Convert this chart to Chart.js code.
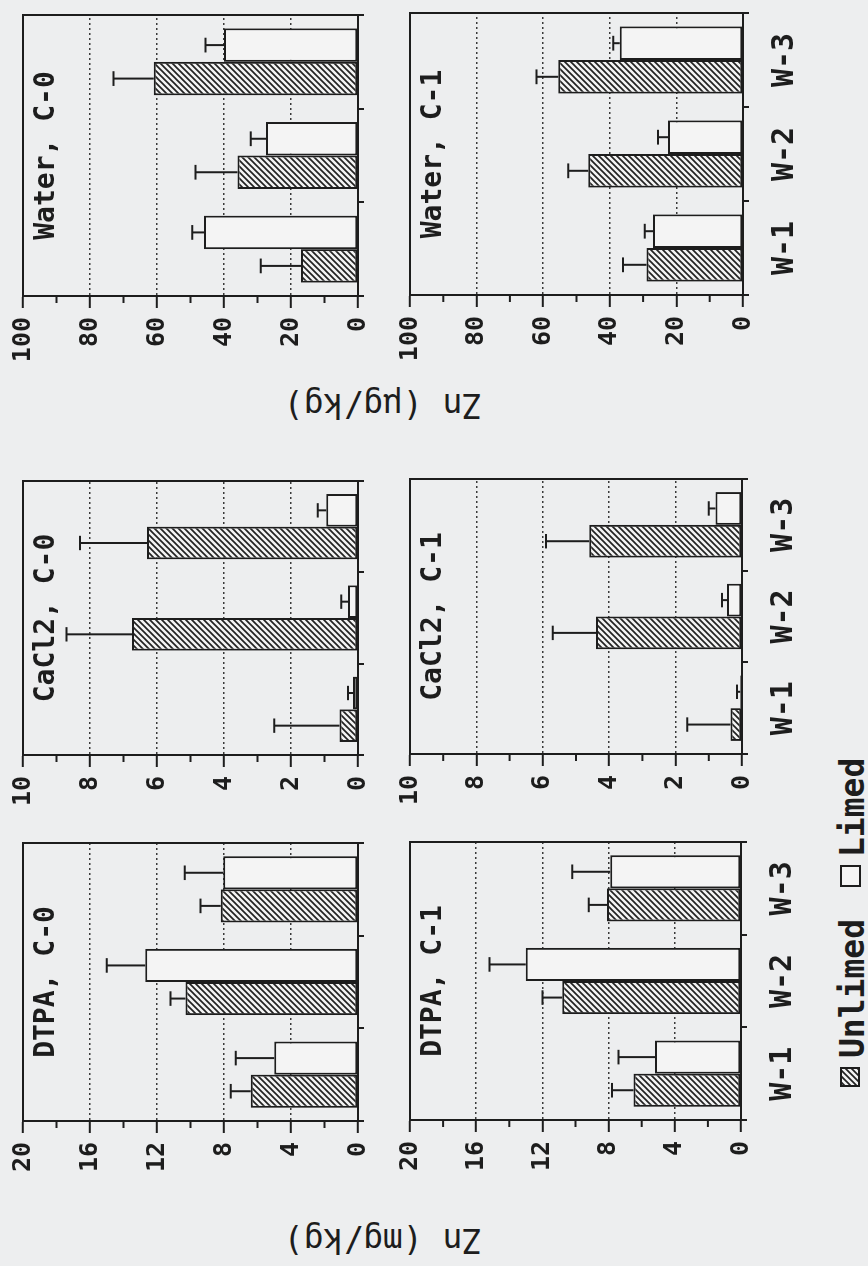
<!DOCTYPE html>
<html>
<head>
<meta charset="utf-8">
<script src="https://cdn.jsdelivr.net/npm/chart.js@4.4.1/dist/chart.umd.min.js"></script>
<style>
  html, body { margin: 0; padding: 0; background: #edeeef; overflow: hidden; }
  body { width: 868px; height: 1266px; position: relative; }
  /* figure is laid out upright, then turned a quarter turn like the scan */
  #sheet { position: absolute; left: 0; top: 0; width: 1266px; height: 868px;
           transform-origin: 0 0; transform: translateY(1266px) rotate(-90deg); }
  #sheet canvas { position: absolute; }
  .ytitle { position: absolute; font: 33px 'DejaVu Sans Mono', monospace; color: #1d1d1d;
            white-space: nowrap; transform: translate(-50%, -50%) rotate(-90deg); }
  .leg { position: absolute; font: bold 33px/33px 'DejaVu Sans Mono', monospace; color: #1d1d1d; white-space: nowrap; }
  .sw { position: absolute; box-sizing: border-box; border: 2px solid #1d1d1d; }
</style>
</head>
<body>
<div id="sheet">
  <div class="ytitle" style="left:861px; top:383px;">Zn (µg/kg)</div>
  <div class="ytitle" style="left:26px; top:383px;">Zn (mg/kg)</div>
  <canvas id="swUnlimed" class="sw" width="20" height="20" style="left:179px; top:840px; border:none;"></canvas>
  <div class="leg" style="left:208px; top:836px;">Unlimed</div>
  <div class="sw" style="left:379px; top:840px; width:22px; height:21px; background:#f4f4f4;"></div>
  <div class="leg" style="left:409px; top:836px;">Limed</div>
</div>
<script>
const categories = ['W-1', 'W-2', 'W-3'];
const seriesNames = ['Unlimed', 'Limed'];

// Water extract, Zn in ug/kg
const waterC0Unlimed = [17, 36, 61];
const waterC0UnlimedErr = [12, 12.5, 12];
const waterC0Limed = [46, 27.5, 40];
const waterC0LimedErr = [3.5, 4.5, 5.5];
const waterC1Unlimed = [29, 46.5, 55.5];
const waterC1UnlimedErr = [7, 6, 6.5];
const waterC1Limed = [27, 22.5, 37];
const waterC1LimedErr = [2.5, 3, 2];

// CaCl2 extract, Zn in mg/kg
const cacl2C0Unlimed = [0.55, 6.75, 6.3];
const cacl2C0UnlimedErr = [1.95, 1.95, 2.0];
const cacl2C0Limed = [0.15, 0.3, 0.95];
const cacl2C0LimedErr = [0.15, 0.2, 0.25];
const cacl2C1Unlimed = [0.35, 4.4, 4.6];
const cacl2C1UnlimedErr = [1.3, 1.3, 1.3];
const cacl2C1Limed = [0.05, 0.45, 0.8];
const cacl2C1LimedErr = [0.1, 0.15, 0.2];

// DTPA extract, Zn in mg/kg
const dtpaC0Unlimed = [6.4, 10.3, 8.2];
const dtpaC0UnlimedErr = [1.2, 0.9, 1.2];
const dtpaC0Limed = [5.0, 12.7, 8.05];
const dtpaC0LimedErr = [2.3, 2.3, 2.3];
const dtpaC1Unlimed = [6.5, 10.8, 8.1];
const dtpaC1UnlimedErr = [1.3, 1.2, 1.1];
const dtpaC1Limed = [5.2, 13.0, 7.9];
const dtpaC1LimedErr = [2.2, 2.2, 2.3];

const waterTicks = [0, 20, 40, 60, 80, 100];
const cacl2Ticks = [0, 2, 4, 6, 8, 10];
const dtpaTicks = [0, 4, 8, 12, 16, 20];

const ink = '#1d1d1d';
const mono = "'DejaVu Sans Mono', monospace";
const sheet = document.getElementById('sheet');

// diagonal hatch used for the unlimed bars
function hatchPattern(ctx) {
  const s = 6, c = document.createElement('canvas');
  c.width = c.height = s;
  const g = c.getContext('2d');
  g.fillStyle = '#f3f3f3';
  g.fillRect(0, 0, s, s);
  g.strokeStyle = '#222';
  g.lineWidth = 1.7;
  g.beginPath();
  g.moveTo(0, s); g.lineTo(s, 0);
  g.moveTo(-1, 1); g.lineTo(1, -1);
  g.moveTo(s - 1, s + 1); g.lineTo(s + 1, s - 1);
  g.stroke();
  return ctx.createPattern(c, 'repeat');
}

// error bars go up only, with a cap
const errorBars = {
  id: 'errorBars',
  afterDatasetsDraw(chart) {
    const { ctx, scales: { y } } = chart;
    ctx.save();
    ctx.strokeStyle = ink;
    ctx.lineWidth = 2;
    chart.data.datasets.forEach((ds, i) => {
      chart.getDatasetMeta(i).data.forEach((bar, j) => {
        const top = y.getPixelForValue(ds.data[j] + ds.errors[j]);
        const half = bar.width * 0.22;
        ctx.beginPath();
        ctx.moveTo(bar.x, bar.y);
        ctx.lineTo(bar.x, top);
        ctx.moveTo(bar.x - half, top);
        ctx.lineTo(bar.x + half, top);
        ctx.stroke();
      });
    });
    ctx.restore();
  }
};

// frame, half-length minor ticks and the panel caption
const panelDecor = {
  id: 'panelDecor',
  afterDraw(chart, args, opts) {
    const { ctx, chartArea: a, scales: { y } } = chart;
    ctx.save();
    ctx.strokeStyle = ink;
    ctx.lineWidth = 2;
    ctx.strokeRect(a.left, a.top, a.right - a.left, a.bottom - a.top);
    opts.minor.forEach(v => {
      const py = y.getPixelForValue(v);
      ctx.beginPath();
      ctx.moveTo(a.left - 7, py);
      ctx.lineTo(a.left, py);
      ctx.stroke();
    });
    ctx.fillStyle = ink;
    ctx.font = 'bold 28px ' + mono;
    ctx.textAlign = 'center';
    ctx.textBaseline = 'top';
    ctx.fillText(opts.title, (a.left + a.right) / 2, a.top + 10);
    ctx.restore();
  }
};

const panels = [
  { title: 'DTPA, C-0', ticks: dtpaTicks, u: dtpaC0Unlimed, ue: dtpaC0UnlimedErr, l: dtpaC0Limed, le: dtpaC0LimedErr, area: [145, 17, 423, 362], labels: false },
  { title: 'DTPA, C-1', ticks: dtpaTicks, u: dtpaC1Unlimed, ue: dtpaC1UnlimedErr, l: dtpaC1Limed, le: dtpaC1LimedErr, area: [146, 404, 424, 741], labels: true },
  { title: 'CaCl2, C-0', ticks: cacl2Ticks, u: cacl2C0Unlimed, ue: cacl2C0UnlimedErr, l: cacl2C0Limed, le: cacl2C0LimedErr, area: [511, 17, 785, 362], labels: false },
  { title: 'CaCl2, C-1', ticks: cacl2Ticks, u: cacl2C1Unlimed, ue: cacl2C1UnlimedErr, l: cacl2C1Limed, le: cacl2C1LimedErr, area: [512, 404, 787, 742], labels: true },
  { title: 'Water, C-0', ticks: waterTicks, u: waterC0Unlimed, ue: waterC0UnlimedErr, l: waterC0Limed, le: waterC0LimedErr, area: [970, 17, 1251, 362], labels: false },
  { title: 'Water, C-1', ticks: waterTicks, u: waterC1Unlimed, ue: waterC1UnlimedErr, l: waterC1Limed, le: waterC1LimedErr, area: [971, 404, 1253, 743], labels: true }
];

function makePanel(p) {
  const padL = 80, padT = 18, padR = 8;
  const botH = p.labels ? 75 : 20;
  const [L, T, R, B] = p.area;
  const cv = document.createElement('canvas');
  cv.width = R - L + padL + padR;
  cv.height = B - T + padT + botH;
  cv.style.left = (L - padL) + 'px';
  cv.style.top = (T - padT) + 'px';
  sheet.appendChild(cv);
  const ctx = cv.getContext('2d');

  const max = p.ticks[p.ticks.length - 1];
  const step = p.ticks[1] / 2;
  const minor = p.ticks.slice(0, -1).map(v => v + step);
  const isMajor = v => p.ticks.includes(v);

  new Chart(ctx, {
    type: 'bar',
    data: {
      labels: categories,
      datasets: [
        { label: seriesNames[0], data: p.u, errors: p.ue, backgroundColor: hatchPattern(ctx),
          borderColor: ink, borderWidth: 2, borderSkipped: false, barPercentage: 1, categoryPercentage: 0.715 },
        { label: seriesNames[1], data: p.l, errors: p.le, backgroundColor: '#f4f4f4',
          borderColor: ink, borderWidth: 2, borderSkipped: false, barPercentage: 1, categoryPercentage: 0.715 }
      ]
    },
    options: {
      responsive: false,
      animation: false,
      devicePixelRatio: 1,
      events: [],
      layout: { padding: { top: padT, right: padR, bottom: 0, left: 0 } },
      scales: {
        x: {
          offset: true,
          grid: { offset: true, drawOnChartArea: false, tickLength: 6, color: ink, lineWidth: 2 },
          border: { display: true, color: ink, width: 2 },
          ticks: { display: p.labels, color: ink, padding: 18, maxRotation: 0,
                   font: { family: mono, size: 30, weight: 'bold' } },
          afterFit(s) { s.height = botH; }
        },
        y: {
          min: 0,
          max: max,
          ticks: { stepSize: step, color: ink, padding: 9,
                   font: { family: mono, size: 25, weight: 'bold' },
                   callback: v => isMajor(v) ? String(v) : '' },
          grid: {
            tickLength: 12,
            lineWidth: 1.6,
            tickWidth: 2,
            color: c => (c.tick && isMajor(c.tick.value) && c.tick.value !== 0 && c.tick.value !== max) ? '#3a3a3a' : 'transparent',
            tickColor: c => (c.tick && isMajor(c.tick.value)) ? ink : 'transparent'
          },
          border: { display: true, color: ink, width: 2, dash: [2, 3] },
          afterFit(s) { s.width = padL; }
        }
      },
      plugins: {
        legend: { display: false },
        tooltip: { enabled: false },
        panelDecor: { title: p.title, minor: minor }
      }
    },
    plugins: [errorBars, panelDecor]
  });
}

panels.forEach(makePanel);

// legend swatch uses the same hatch as the bars
const sw = document.getElementById('swUnlimed');
const swCtx = sw.getContext('2d');
swCtx.fillStyle = hatchPattern(swCtx);
swCtx.fillRect(0, 0, 20, 20);
swCtx.strokeStyle = ink;
swCtx.lineWidth = 2;
swCtx.strokeRect(1, 1, 18, 18);
</script>
</body>
</html>
